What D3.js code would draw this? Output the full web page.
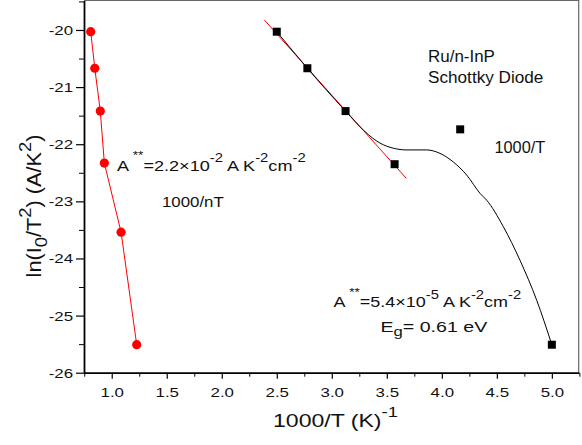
<!DOCTYPE html>
<html>
<head>
<meta charset="utf-8">
<script src="https://cdn.jsdelivr.net/npm/d3@7"></script>
<style>
  body { margin: 0; background: #fff; }
  svg { display: block; font-family: "Liberation Sans", Arial, sans-serif; }
</style>
</head>
<body>
<div id="chart"></div>
<script>
// data
const circX = [0.809, 0.846, 0.896, 0.933, 1.085, 1.227];      // 1000/nT
const circY = [-20.03, -20.67, -21.42, -22.33, -23.54, -25.51];
const sqX = [2.5, 2.778, 3.125, 3.571, 4.167, 5.0];             // 1000/T
const sqY = [-20.03, -20.67, -21.42, -22.35, -21.74, -25.51];
const fitX = [2.387, 3.677];                                    // red linear fit
const fitY = [-19.825, -22.597];
const curveX = [2.5, 2.778, 3.125, 3.302, 3.438, 3.559, 3.681, 3.862, 3.983, 4.104, 4.226, 4.347, 4.408, 4.558, 4.71, 4.862, 5.0];
const curveY = [-20.03, -20.67, -21.42, -21.78, -21.98, -22.07, -22.1, -22.1, -22.16, -22.31, -22.54, -22.86, -22.98, -23.44, -24.03, -24.73, -25.51];
const xTicks = [1.0, 1.5, 2.0, 2.5, 3.0, 3.5, 4.0, 4.5, 5.0];
const xMinor = [0.75, 1.25, 1.75, 2.25, 2.75, 3.25, 3.75, 4.25, 4.75, 5.25];
const yTicks = [-26, -25, -24, -23, -22, -21, -20];
const yMinor = [-25.5, -24.5, -23.5, -22.5, -21.5, -20.5, -19.5];

const width = 582, height = 445;
const mLeft = 84, mRight = 578.7, mTop = 0.5, mBottom = 372.7;

const svg = d3.select("#chart").append("svg")
  .attr("width", width).attr("height", height);

const x = d3.scaleLinear().domain([0.748, 5.244]).range([mLeft, mRight]);
const y = d3.scaleLinear().domain([-26, -19.484]).range([mBottom, mTop]);

// frame (top / right)
svg.append("path")
  .attr("d", `M${mLeft},${mTop}H${mRight}V${mBottom}`)
  .attr("fill", "none").attr("stroke", "#666").attr("stroke-width", 1.2);

// minor ticks
svg.append("g").attr("transform", `translate(0,${mBottom})`)
  .call(d3.axisBottom(x).tickValues(xMinor).tickSize(4).tickSizeOuter(0).tickFormat(""))
  .call(g => g.select(".domain").remove());
svg.append("g").attr("transform", `translate(${mLeft},0)`)
  .call(d3.axisLeft(y).tickValues(yMinor).tickSize(5).tickSizeOuter(0).tickFormat(""))
  .call(g => g.select(".domain").remove());

// major axes
const xAxis = svg.append("g").attr("transform", `translate(0,${mBottom})`)
  .call(d3.axisBottom(x).tickValues(xTicks).tickSize(6).tickSizeOuter(0).tickFormat(d3.format(".1f")));
const yAxis = svg.append("g").attr("transform", `translate(${mLeft},0)`)
  .call(d3.axisLeft(y).tickValues(yTicks).tickSize(8).tickSizeOuter(0).tickFormat(d => String(d)));

[xAxis, yAxis].forEach(a => {
  a.select(".domain").attr("stroke-width", 1.8);
  a.selectAll(".tick line").attr("stroke-width", 1.2);
  a.selectAll("text").attr("font-size", 12.5).attr("font-family", null).attr("fill", "#111");
});
xAxis.selectAll("text").attr("y", 24).attr("dy", 0).attr("transform", "scale(1.35,1)");
yAxis.selectAll("text").attr("x", -11 / 1.35).attr("dy", "0.36em").attr("transform", "scale(1.35,1)");

// red fit line for 1000/T
svg.append("path")
  .datum(d3.zip(fitX, fitY))
  .attr("fill", "none").attr("stroke", "#ff0000").attr("stroke-width", 1)
  .attr("d", d3.line().x(d => x(d[0])).y(d => y(d[1])));

// black curve
svg.append("path")
  .datum(d3.zip(curveX, curveY))
  .attr("fill", "none").attr("stroke", "#000").attr("stroke-width", 1)
  .attr("d", d3.line().curve(d3.curveMonotoneX).x(d => x(d[0])).y(d => y(d[1])));

// red line + circles (1000/nT)
const circ = d3.zip(circX, circY);
svg.append("path")
  .datum(circ)
  .attr("fill", "none").attr("stroke", "#ff0000").attr("stroke-width", 1)
  .attr("d", d3.line().x(d => x(d[0])).y(d => y(d[1])));
svg.selectAll("circle.nT").data(circ).join("circle")
  .attr("class", "nT")
  .attr("cx", d => x(d[0])).attr("cy", d => y(d[1]))
  .attr("r", 4.6).attr("fill", "#ff0000");

// black squares (1000/T)
svg.selectAll("rect.T").data(d3.zip(sqX, sqY)).join("rect")
  .attr("class", "T")
  .attr("x", d => x(d[0]) - 4).attr("y", d => y(d[1]) - 4)
  .attr("width", 8).attr("height", 8).attr("fill", "#000");

// text with super/subscripts, stretched to the width seen in the picture
function richText(px, py, parts, size, targetW, opts = {}) {
  const g = svg.append("g");
  const t = g.append("text").attr("font-size", size).attr("fill", "#111")
    .attr("text-anchor", opts.anchor || "start");
  let cur = 0;
  parts.forEach(p => {
    const shift = p.shift || 0;
    t.append("tspan").text(p.t)
      .attr("font-size", p.s ? size * p.s : size)
      .attr("dy", (shift - cur) * size);
    cur = shift;
  });
  const w = t.node().getBBox().width;
  const sx = targetW ? targetW / w : 1;
  g.attr("transform", `translate(${px},${py})` + (opts.rotate ? ` rotate(${opts.rotate})` : "") + ` scale(${sx},1)`);
}

const SUP = { s: 0.82, shift: -0.55 };
const STAR = { s: 0.75, shift: -0.75 };

richText(117, 170.7, [
  { t: "A" }, { t: " **", ...STAR }, { t: "=2.2\u00d710" }, { t: "-2", ...SUP },
  { t: " A K" }, { t: "-2", ...SUP }, { t: "cm" }, { t: "-2", ...SUP }
], 15, 189);
richText(162, 206.7, [{ t: "1000/nT" }], 14.5, 62);
richText(428, 62, [{ t: "Ru/n-InP" }], 16.5, 67);
richText(428, 83.3, [{ t: "Schottky Diode" }], 16.5, 115.5);
richText(494.5, 153.3, [{ t: "1000/T" }], 16, 51);
richText(333.5, 307.3, [
  { t: "A" }, { t: " **", ...STAR }, { t: "=5.4\u00d710" }, { t: "-5", ...SUP },
  { t: " A K" }, { t: "-2", ...SUP }, { t: "cm" }, { t: "-2", ...SUP }
], 14.7, 188);
richText(380.5, 331.7, [
  { t: "E" }, { t: "g", s: 0.85, shift: 0.32 }, { t: "= 0.61 eV" }
], 14.7, 107);

// axis titles
richText(273, 426.7, [{ t: "1000/T (K)" }, { t: "-1", s: 0.8, shift: -0.5 }], 19, 125);
richText(40.7, 206, [
  { t: "ln(I" }, { t: "0", s: 0.85, shift: 0.3 }, { t: "/T" }, { t: "2", s: 0.85, shift: -0.5 },
  { t: ") (A/K" }, { t: "2", s: 0.85, shift: -0.5 }, { t: ")" }
], 20, 143, { anchor: "middle", rotate: -90 });
</script>
</body>
</html>
